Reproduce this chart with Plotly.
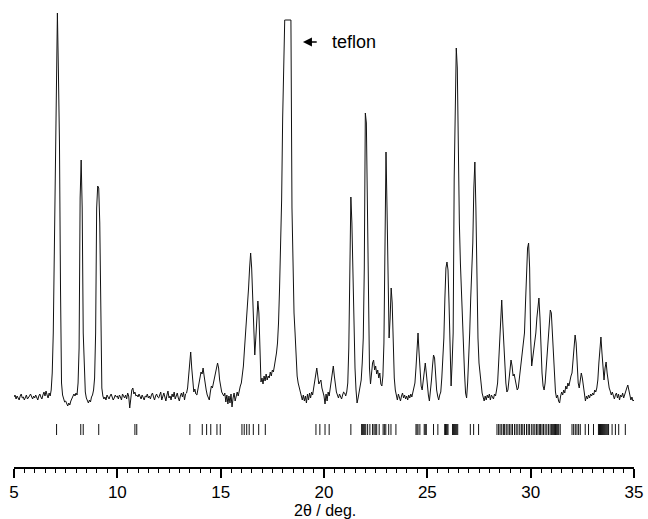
import plotly.graph_objects as go

# ---- powder pattern: counts (baseline-subtracted, arbitrary units) on a 0.05 deg scan grid ----
scan_start = 5.0
scan_step = 0.05

counts_05 = [1, 3, -1, 2, 0, -2, 2, 4, 0, 1, -2, 1, 3, -1, 0, 2, 4, 1, -1, 2]
counts_06 = [0, 3, 1, -2, 2, 4, 1, -1, 3, 6, 2, 7, 3, 0, 5, 2, 8, 25, 65, 160]
counts_07 = [250, 345, 385, 325, 255, 110, 15, 3, -2, -4, -3, -6, -8, -5, -7, -3, -1, 1, 4, 2]
counts_08 = [5, 3, 15, 50, 200, 238, 190, 65, 20, 6, 0, -3, -5, -2, -4, 1, 3, 8, 20, 65]
counts_09 = [190, 212, 210, 175, 55, 10, 2, -1, 1, -2, 3, 0, -1, 2, 4, 1, -2, 0, 3, 1]
counts_10 = [2, -1, 3, 1, -2, 4, 2, 0, 3, -1, 5, 2, -10, 1, 8, 10, 4, 6, 2, 3]
counts_11 = [1, 4, 2, -1, 3, 0, -2, 2, 1, 4, 0, 2, -1, 3, 5, 1, -2, 2, 4, 1]
counts_12 = [0, 3, 6, -2, 2, 5, 1, -3, 3, 7, 0, 2, -2, 4, 1, 6, -1, 3, 5, 0]
counts_13 = [-3, 2, 5, 1, 6, -2, 4, 5, 10, 22, 36, 46, 30, 12, 6, 9, 4, 3, 9, 16]
counts_14 = [20, 26, 24, 30, 22, 12, 8, 3, 0, -2, 6, 12, 10, 16, 22, 26, 30, 35, 30, 18]
counts_15 = [10, 6, 4, 2, 5, -4, 3, -6, 2, -5, 4, -9, 0, 5, -3, 3, 6, 2, 8, 12]
counts_16 = [15, 22, 32, 48, 62, 80, 98, 110, 130, 145, 130, 95, 60, 43, 60, 85, 97, 85, 45, 16]
counts_17 = [20, 14, 22, 17, 24, 18, 22, 20, 26, 22, 28, 26, 32, 38, 45, 55, 75, 110, 150, 198]
counts_18 = [280, 340, 378, 378, 378, 378, 378, 378, 378, 190, 120, 85, 65, 35, 22, 15, 10, 6, 2, -2]
counts_19 = [3, -3, 2, -5, 4, -2, 5, 0, 6, 3, 10, 18, 26, 30, 22, 14, 16, 18, 10, 6]
counts_20 = [2, -6, 4, -3, 6, 2, 10, 20, 28, 32, 22, 12, 6, 3, 0, 4, 2, -1, 3, 6]
counts_21 = [5, 2, 6, 15, 50, 130, 201, 175, 120, 70, 30, 8, -5, 0, 5, 10, 18, 35, 60, 130]
counts_22 = [285, 275, 180, 80, 30, 14, 25, 35, 38, 28, 32, 24, 28, 20, 25, 14, 12, 22, 55, 150]
counts_23 = [246, 190, 100, 60, 80, 110, 95, 50, 20, 8, 3, -2, 4, 1, -3, 2, 5, 0, 3, -1]
counts_24 = [2, -2, 3, 0, 4, 1, 6, 10, 15, 30, 55, 65, 45, 22, 12, 8, 18, 28, 35, 25]
counts_25 = [12, 3, -3, 5, 18, 32, 43, 40, 22, 8, 2, -2, 3, 6, 20, 40, 60, 100, 130, 136]
counts_26 = [128, 95, 35, 12, 35, 65, 220, 300, 350, 330, 235, 175, 135, 105, 72, 45, 25, 5, 0, 15]
counts_27 = [35, 65, 100, 130, 155, 210, 236, 190, 110, 60, 35, 25, 12, 5, 1, -3, 2, -2, 3, 0]
counts_28 = [4, -2, 3, 1, -1, 4, 2, 8, 15, 35, 60, 90, 98, 75, 50, 30, 15, 6, 8, 18]
counts_29 = [30, 38, 32, 22, 24, 18, 12, 8, 10, 20, 30, 40, 45, 55, 65, 95, 130, 150, 155, 130]
counts_30 = [60, 32, 40, 48, 55, 65, 80, 95, 100, 80, 50, 25, 12, 8, 15, 30, 45, 65, 80, 88]
counts_31 = [85, 65, 40, 15, 6, 0, 3, -3, -5, 2, 6, 3, 8, 5, 12, 9, 15, 12, 18, 22]
counts_32 = [25, 40, 55, 63, 55, 30, 15, 10, 18, 25, 20, 10, 3, -3, 2, -1, 3, 0, 4, 2]
counts_33 = [5, 3, 8, 6, 10, 18, 35, 55, 61, 45, 25, 18, 30, 36, 25, 15, 10, 7, 3, 6]
counts_34 = [2, -1, 3, 5, 0, 4, -2, 3, 1, 5, 0, 4, 7, 10, 13, 8, 3, -2, 1, -3]
counts_35 = [-2]

# ---- calculated reflection positions (2theta, deg) ----
reflections = [7.06, 8.23, 8.35, 9.10, 10.85, 10.94, 13.51, 14.11, 14.32, 14.52, 14.82, 14.98,
               16.03, 16.14, 16.26, 16.38, 16.58, 16.84, 17.16, 19.61, 19.80, 20.05, 20.25, 21.30,
               21.82, 21.87, 21.92, 21.97, 22.02, 22.11, 22.22, 22.35, 22.42, 22.48, 22.55, 22.67,
               22.86, 22.92, 22.99, 23.13, 23.24, 23.48, 24.45, 24.50, 24.55, 24.64, 24.85, 24.90,
               24.95, 25.30, 25.51, 25.84, 25.88, 25.92, 25.96, 26.00, 26.22, 26.27, 26.32, 26.37,
               26.42, 26.47, 27.08, 27.24, 27.48, 28.37, 28.45, 28.52, 28.60, 28.68, 28.74, 28.82,
               28.90, 28.97, 29.05, 29.12, 29.22, 29.30, 29.38, 29.47, 29.55, 29.62, 29.70, 29.80,
               29.88, 29.95, 30.05, 30.12, 30.20, 30.28, 30.35, 30.42, 30.48, 30.55, 30.62, 30.70,
               30.78, 30.86, 30.94, 31.00, 31.04, 31.08, 31.12, 31.16, 31.20, 31.24, 31.28, 31.32,
               31.36, 31.43, 32.00, 32.08, 32.16, 32.24, 32.32, 32.40, 32.64, 32.80, 33.04, 33.28,
               33.33, 33.38, 33.43, 33.48, 33.53, 33.58, 33.63, 33.68, 33.73, 33.77, 33.94, 34.10,
               34.26, 34.58]
tick_top = -26
tick_bottom = -37

teflon_label = "teflon"
teflon_arrow_tip = (18.98, 356)
teflon_arrow_tail = (19.72, 356)
teflon_text_pos = (20.29, 356)

x_tick_values = [5, 10, 15, 20, 25, 30, 35]
x_title = "2θ / deg."

# ---- build ----
counts = (counts_05 + counts_06 + counts_07 + counts_08 + counts_09 + counts_10 + counts_11 +
          counts_12 + counts_13 + counts_14 + counts_15 + counts_16 + counts_17 + counts_18 +
          counts_19 + counts_20 + counts_21 + counts_22 + counts_23 + counts_24 + counts_25 +
          counts_26 + counts_27 + counts_28 + counts_29 + counts_30 + counts_31 + counts_32 +
          counts_33 + counts_34 + counts_35)
two_theta = [round(scan_start + i * scan_step, 2) for i in range(len(counts))]

rx, ry = [], []
for p in reflections:
    rx += [p, p, None]
    ry += [tick_top, tick_bottom, None]

fig = go.Figure()
fig.add_trace(go.Scatter(x=two_theta, y=counts, mode="lines",
                         line=dict(color="#111111", width=1), hoverinfo="skip"))
fig.add_trace(go.Scatter(x=rx, y=ry, mode="lines",
                         line=dict(color="#111111", width=1), hoverinfo="skip"))

FONT = "Liberation Sans, Arial, sans-serif"

fig.add_annotation(x=teflon_arrow_tip[0], y=teflon_arrow_tip[1],
                   ax=teflon_arrow_tail[0], ay=teflon_arrow_tail[1],
                   axref="x", ayref="y", xref="x", yref="y", text="",
                   showarrow=True, arrowhead=2, arrowsize=1.2, arrowwidth=1.5,
                   arrowcolor="black")
fig.add_annotation(x=teflon_text_pos[0], y=teflon_text_pos[1], xref="x", yref="y",
                   text=teflon_label, showarrow=False, xanchor="left", yanchor="middle",
                   font=dict(family=FONT, size=18, color="black"))
fig.add_annotation(x=0.5016, y=-0.094, xref="paper", yref="paper", text=x_title,
                   showarrow=False, xanchor="center", yanchor="middle",
                   font=dict(family=FONT, size=16, color="black"))

fig.update_layout(
    width=648, height=519,
    margin=dict(l=14, r=14, t=0, b=52),
    paper_bgcolor="white", plot_bgcolor="white",
    showlegend=False,
    xaxis=dict(range=[5, 35], showgrid=False, zeroline=False,
               showline=True, linecolor="black", linewidth=1.5,
               ticks="outside", ticklen=9, tickwidth=1.5, tickcolor="black",
               tickvals=x_tick_values,
               minor=dict(dtick=0.5, tick0=5, ticks="outside", ticklen=4,
                          tickwidth=1, tickcolor="black"),
               tickfont=dict(family=FONT, size=17, color="black")),
    yaxis=dict(range=[-69, 398], visible=False, showgrid=False, zeroline=False),
)

fig.write_html("out.html", config={"displayModeBar": False},
               post_script="document.body.style.margin='0';document.body.style.overflow='hidden';")
